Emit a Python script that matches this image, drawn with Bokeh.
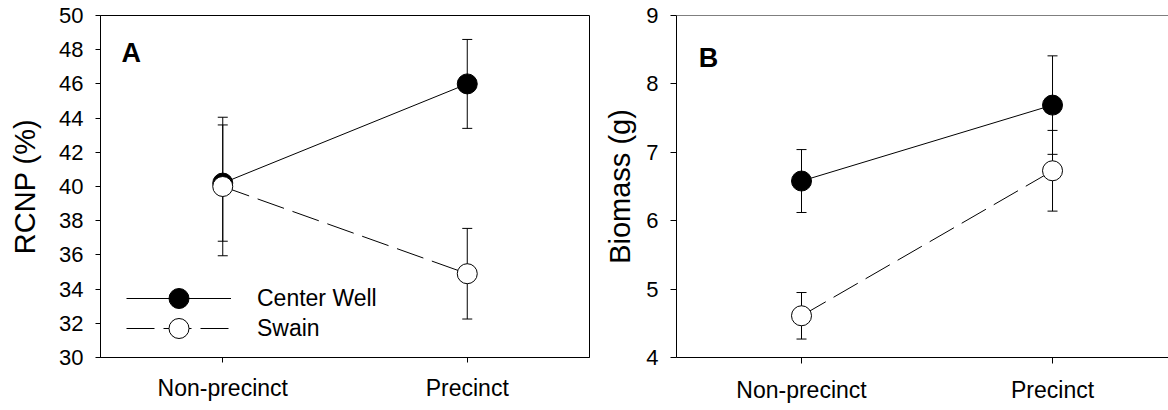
from bokeh.plotting import figure
from bokeh.models import (Range1d, FixedTicker, Legend, LegendItem, Whisker,
                          ColumnDataSource, Label, TeeHead, Span)
from bokeh.layouts import row
from bokeh.embed import file_html
from bokeh.resources import INLINE

categories = ["Non-precinct", "Precinct"]
series_names = ["Center Well", "Swain"]

rcnp_center = [40.2, 46.0]
rcnp_center_se = [3.4, 2.6]
rcnp_swain = [40.0, 34.9]
rcnp_swain_se = [4.05, 2.65]

bio_center = [6.58, 7.69]
bio_center_se = [0.46, 0.72]
bio_swain = [4.61, 6.73]
bio_swain_se = [0.34, 0.59]

rcnp_ticks = list(range(30, 51, 2))
bio_ticks = list(range(4, 10, 1))

FONT = "Liberation Sans"
xs = list(range(len(categories)))


def src(vals, se):
    return ColumnDataSource(dict(
        x=xs, y=vals,
        upper=[v + e for v, e in zip(vals, se)],
        lower=[v - e for v, e in zip(vals, se)],
    ))


def make_panel(width, height, mb_left, mb_right, mb_bottom, xr, yr, yticks,
               ylabel, title_standoff, tick_out, xstandoff, center, center_se,
               swain, swain_se, letter, letter_x, letter_y, legend, box):
    p = figure(width=width, height=height, output_backend="svg",
               toolbar_location=None, x_range=Range1d(*xr), y_range=Range1d(*yr),
               min_border_left=mb_left, min_border_right=mb_right,
               min_border_top=15, min_border_bottom=mb_bottom)
    p.grid.visible = False
    p.background_fill_color = "white"
    p.border_fill_color = "white"
    if box:
        p.outline_line_color = "black"
        p.outline_line_width = 1
        p.outline_line_alpha = 1
    else:
        p.outline_line_color = None
        p.add_layout(Span(location=yr[1], dimension="width", line_color="black",
                          line_width=1))

    # axes
    p.yaxis.ticker = FixedTicker(ticks=yticks)
    p.yaxis.axis_label = ylabel
    p.yaxis.axis_label_text_font = FONT
    p.yaxis.axis_label_text_font_size = "29px"
    p.yaxis.axis_label_text_font_style = "normal"
    p.yaxis.axis_label_text_color = "black"
    p.yaxis.axis_label_standoff = title_standoff
    p.yaxis.major_label_text_font = FONT
    p.yaxis.major_label_text_font_size = "22px"
    p.yaxis.major_label_text_color = "black"
    p.yaxis.major_label_standoff = 12
    p.yaxis.major_tick_out = tick_out
    p.yaxis.major_tick_in = 0
    p.yaxis.minor_tick_line_color = None

    p.xaxis.ticker = FixedTicker(ticks=xs)
    p.xaxis.major_label_overrides = {i: c for i, c in zip(xs, categories)}
    p.xaxis.major_label_text_font = FONT
    p.xaxis.major_label_text_font_size = "23px"
    p.xaxis.major_label_text_color = "black"
    p.xaxis.major_label_standoff = xstandoff
    p.xaxis.major_tick_out = tick_out
    p.xaxis.major_tick_in = 0
    p.xaxis.minor_tick_line_color = None

    for ax in (p.xaxis, p.yaxis):
        ax.axis_line_color = "black"
        ax.major_tick_line_color = "black"

    sc = src(center, center_se)
    ss = src(swain, swain_se)

    for s in (sc, ss):
        w = Whisker(source=s, base="x", upper="upper", lower="lower",
                    line_color="black", line_width=1, level="underlay",
                    upper_head=TeeHead(size=10, line_color="black", line_width=1),
                    lower_head=TeeHead(size=10, line_color="black", line_width=1))
        p.add_layout(w)

    l1 = p.line("x", "y", source=sc, line_color="black", line_width=1)
    m1 = p.scatter("x", "y", source=sc, size=20, marker="circle",
                   fill_color="black", line_color="black", line_width=1)
    l2 = p.line("x", "y", source=ss, line_color="black", line_width=1,
                line_dash="28 9")
    m2 = p.scatter("x", "y", source=ss, size=20, marker="circle",
                   fill_color="white", line_color="black", line_width=1)

    p.add_layout(Label(x=letter_x, y=letter_y, x_units="data", y_units="data",
                       text=letter, text_font=FONT, text_font_size="27px",
                       text_font_style="bold", text_color="black",
                       text_baseline="alphabetic"))

    if legend:
        common = dict(orientation="vertical", glyph_width=105, glyph_height=50,
                      label_standoff=26, label_text_font=FONT,
                      label_text_font_size="23px", label_text_color="black",
                      label_text_baseline="middle", padding=0, margin=0,
                      border_line_color=None, background_fill_alpha=0)
        lg1 = Legend(items=[LegendItem(label=series_names[0], renderers=[l1, m1])],
                     location=(26, 34), **common)
        lg2 = Legend(items=[LegendItem(label=series_names[1], renderers=[l2, m2])],
                     location=(26, 4), **common)
        p.add_layout(lg1, "center")
        p.add_layout(lg2, "center")
    return p


pA = make_panel(600, 410, 100, 11, 53, (-0.5, 1.5), (30, 50), rcnp_ticks,
                "RCNP (%)", 15, 5, 12, rcnp_center, rcnp_center_se,
                rcnp_swain, rcnp_swain_se, "A", -0.414, 47.8, True, True)
pB = make_panel(568, 410, 76, 0, 45, (-0.498, 1.462), (4, 9), bio_ticks,
                "Biomass (g)", 7, 6, 13, bio_center, bio_center_se,
                bio_swain, bio_swain_se, "B", -0.409, 8.376, False, False)

layout = row(pA, pB)
open("out.html", "w").write(file_html(layout, INLINE))
